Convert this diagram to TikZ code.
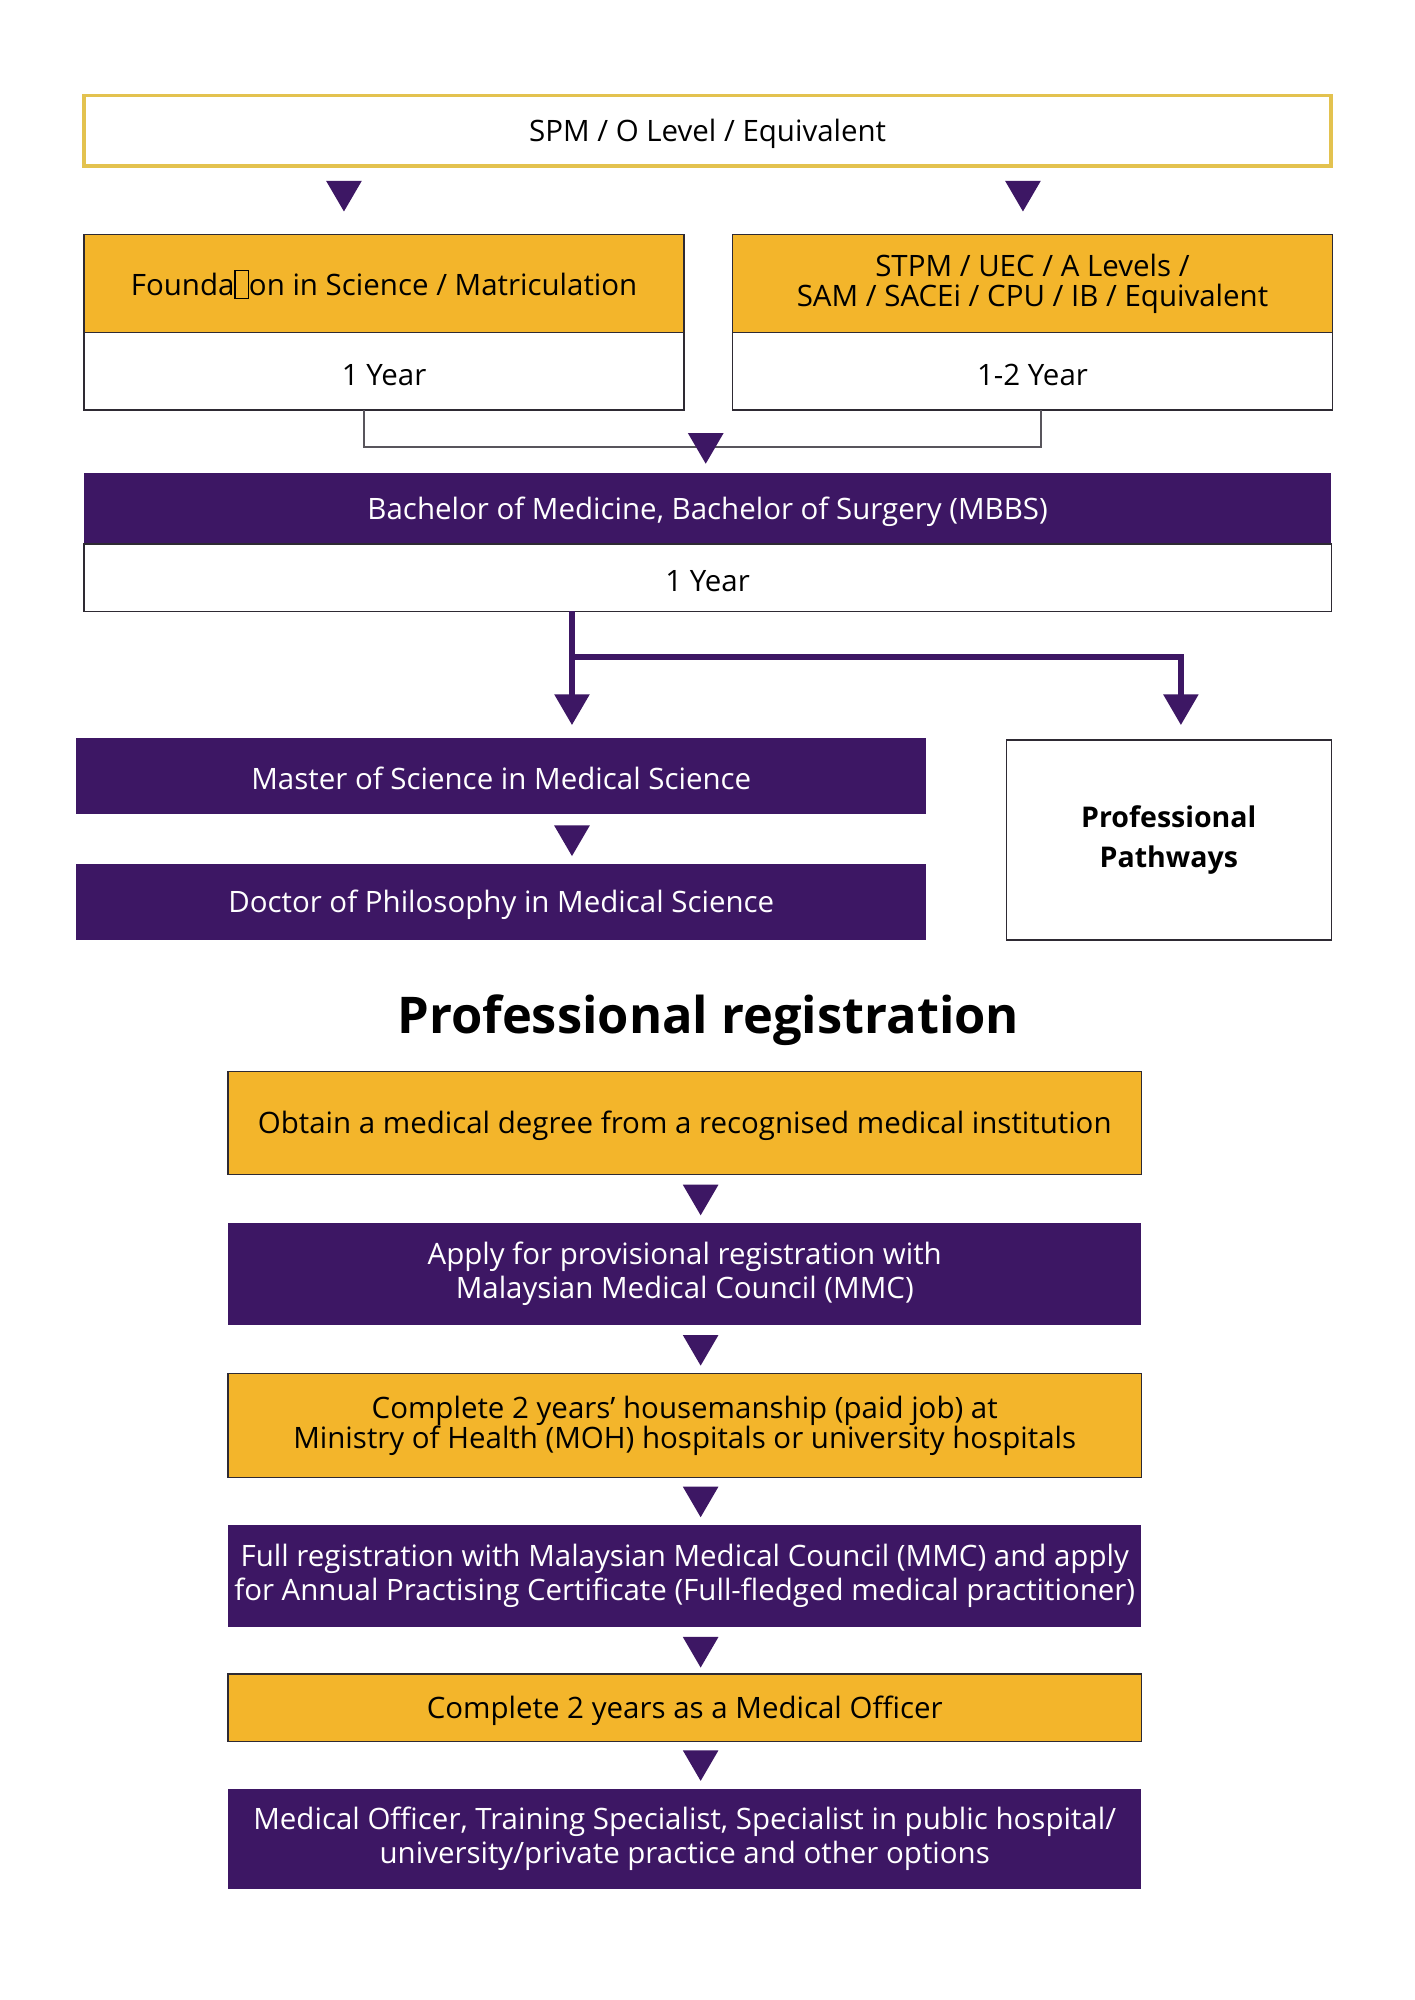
\documentclass[tikz,border=0pt]{standalone}
\usepackage{fontspec}
\setmainfont{Open Sans}
\usetikzlibrary{calc}
\definecolor{gold}{HTML}{F3B52B}
\definecolor{goldline}{HTML}{E3C24F}
\definecolor{pur}{HTML}{3D1764}
\definecolor{edge}{HTML}{2E2A33}
\newcommand\missingglyph{{\setlength\fboxsep{0pt}\setlength\fboxrule{0.45pt}\fbox{\rule[-0.15ex]{0pt}{1.75ex}\hspace{0.42em}}}}
\newcommand\tri[2]{\fill[pur] ({#1-14},#2) -- ({#1+14},#2) -- (#1,{#2+24}) -- cycle;}
\begin{document}
\begin{tikzpicture}[x=0.536pt,y=-0.536pt,
  sz/.style 2 args={minimum width=#1*0.536pt, minimum height=#2*0.536pt},
  bx/.style={inner sep=0pt, outer sep=0pt, align=center, font=\fontsize{12.4}{14.5}\selectfont,
     execute at begin node={\rule{0pt}{12pt}}},
  tight/.style={font=\fontsize{12.4}{12.6}\selectfont},
  ybox/.style={bx, fill=gold, draw=edge, line width=0.6pt},
  wbox/.style={bx, fill=white, draw=edge, line width=0.6pt},
  pbox/.style={bx, fill=pur, text=white},
  thinline/.style={draw=edge!80, line width=0.8pt},
  pline/.style={draw=pur, line width=2.4pt}]
\useasboundingbox[fill=white] (0,0) rectangle (1110,1570);

% top
\node[bx, fill=white, draw=goldline, line width=1.6pt, sz={979}{55}] (spm) at (555.5,102.5) {SPM / O Level / Equivalent};
\tri{270}{142}
\tri{803}{142}

\node[ybox, sz={471}{77}] (fa) at (301.5,222.5) {Founda\missingglyph on in Science / Matriculation};
\node[wbox, sz={471}{61}] (fb) at (301.5,291.5) {1 Year};
\node[ybox, tight, sz={471}{77}] (sa) at (810.5,222.5) {STPM / UEC / A Levels /\\SAM / SACEi / CPU / IB / Equivalent};
\node[wbox, sz={471}{61}] (sb) at (810.5,291.5) {1-2 Year};

\draw[thinline] ($(fb.south)+(-15.5,0)$) |- (554,351) -| ($(sb.south)+(6.5,0)$);
\tri{554}{340}

\node[pbox, sz={979}{56}] (ma) at (555.5,399) {Bachelor of Medicine, Bachelor of Surgery (MBBS)};
\node[wbox, sz={979}{53}] (mb) at (555.5,453.5) {1 Year};

\coordinate (j) at (449,516);
\coordinate (jr) at (927,547);
\draw[pline] (mb.south -| j) -- (449,547);
\draw[pline] (j) -| (jr);
\tri{449}{545}
\tri{927}{545}

\node[pbox, sz={667}{60}] (msc) at (393.5,609) {Master of Science in Medical Science};
\tri{449}{648}
\node[pbox, sz={667}{60}] (phd) at (393.5,708) {Doctor of Philosophy in Medical Science};
\node[wbox, sz={255}{157}, font=\bfseries\fontsize{12}{16.6}\selectfont] (pp) at (917.5,659.5) {Professional\\Pathways};

\node[font=\bfseries\fontsize{21.3}{24}\selectfont, inner sep=0pt] (title) at (556,801) {Professional registration};

% professional registration
\node[ybox, sz={717}{81}] (b1) at (537.5,881.5) {Obtain a medical degree from a recognised medical institution};
\tri{550}{930}
\node[pbox, sz={717}{80}] (b2) at (537.5,1000) {Apply for provisional registration with\\Malaysian Medical Council (MMC)};
\tri{550}{1048}
\node[ybox, tight, sz={717}{82}] (b3) at (537.5,1119) {Complete 2 years’ housemanship (paid job) at\\Ministry of Health (MOH) hospitals or university hospitals};
\tri{550}{1167}
\node[pbox, sz={717}{80}] (b4) at (537.5,1237) {Full registration with Malaysian Medical Council (MMC) and apply\\for Annual Practising Certificate (Full-fledged medical practitioner)};
\tri{550}{1285}
\node[ybox, sz={717}{53}] (b5) at (537.5,1340.5) {Complete 2 years as a Medical Officer};
\tri{550}{1374}
\node[pbox, sz={717}{79}] (b6) at (537.5,1443.5) {Medical Officer, Training Specialist, Specialist in public hospital/\\university/private practice and other options};
\end{tikzpicture}
\end{document}
